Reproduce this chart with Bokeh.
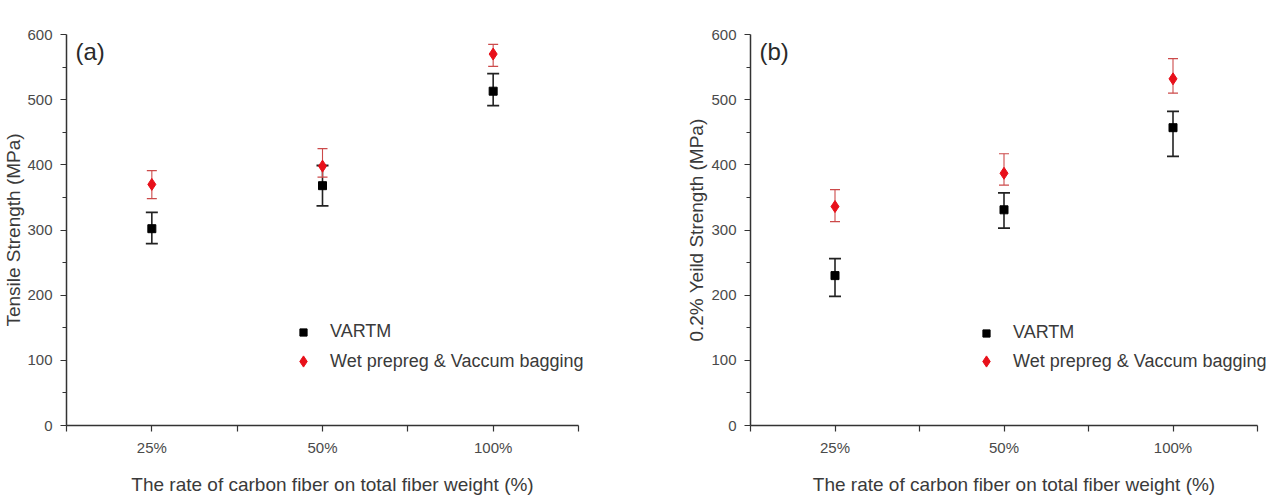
from bokeh.plotting import figure
from bokeh.layouts import row
from bokeh.models import (Range1d, FixedTicker, ColumnDataSource, Whisker, TeeHead,
                          Legend, LegendItem, Label)
from bokeh.embed import file_html
from bokeh.resources import INLINE

# ---------------- data ----------------
categories = ["25%", "50%", "100%"]
series_names = ["VARTM", "Wet prepreg & Vaccum bagging"]

tensile_vartm = [302, 368, 513]
tensile_vartm_lo = [279, 337, 491]
tensile_vartm_hi = [327, 399, 540]
tensile_wet = [370, 398, 570]
tensile_wet_lo = [348, 381, 551]
tensile_wet_hi = [391, 425, 585]

yield_vartm = [230, 331, 457]
yield_vartm_lo = [198, 303, 413]
yield_vartm_hi = [256, 357, 482]
yield_wet = [336, 387, 532]
yield_wet_lo = [313, 369, 510]
yield_wet_hi = [362, 417, 563]

y_major_ticks = [0, 100, 200, 300, 400, 500, 600]
y_minor_ticks = [50, 150, 250, 350, 450, 550]

FONT = "Liberation Sans"
TEXT = "#3a3a3a"
AXIS = "#333333"
FRAME_H = 391
EXTRA_W = 20  # extra frame room on the right so the legend text is not clipped


def make_panel(tag, ytitle, vartm, vlo, vhi, wet, wlo, whi,
               border_left, border_top, axis_w, fig_w,
               ytitle_standoff, legend_cx, legend_rows):
    n = len(categories)
    xs = list(range(1, n + 1))
    frame_w = axis_w + EXTRA_W
    x_end = 0.5 + n * frame_w / axis_w
    border_bottom = 498 - border_top - FRAME_H
    p = figure(width=fig_w, height=498,
               frame_width=frame_w, frame_height=FRAME_H,
               min_border_left=border_left, min_border_right=fig_w - border_left - frame_w,
               min_border_top=border_top, min_border_bottom=border_bottom,
               x_range=Range1d(0.5, x_end),
               y_range=Range1d(0, 600),
               output_backend="svg", toolbar_location=None,
               background_fill_color="white", border_fill_color="white")
    p.outline_line_color = None
    p.grid.visible = False

    # axes
    p.xaxis.ticker = FixedTicker(ticks=xs, minor_ticks=[x - 0.5 for x in xs] + [xs[-1] + 0.5])
    p.xaxis.bounds = (0.5, n + 0.5)
    p.xaxis.major_label_overrides = {x: c for x, c in zip(xs, categories)}
    p.yaxis.ticker = FixedTicker(ticks=y_major_ticks, minor_ticks=y_minor_ticks)
    for ax in (p.xaxis[0], p.yaxis[0]):
        ax.axis_line_color = AXIS
        ax.axis_line_width = 1.5
        ax.major_tick_line_color = AXIS
        ax.minor_tick_line_color = AXIS
        ax.major_tick_line_width = 1.2
        ax.minor_tick_line_width = 1.2
        ax.major_tick_in = 0
        ax.minor_tick_in = 0
        ax.major_label_text_font = FONT
        ax.major_label_text_font_size = "15px"
        ax.major_label_text_color = "#4a4a4a"
        ax.axis_label_text_font = FONT
        ax.axis_label_text_font_style = "normal"
        ax.axis_label_text_color = TEXT
        ax.axis_label_text_font_size = "19px"
    p.xaxis.major_tick_out = 6
    p.xaxis.minor_tick_out = 6
    p.yaxis.major_tick_out = 6
    p.yaxis.minor_tick_out = 4
    p.xaxis.major_label_standoff = 7
    p.yaxis.major_label_standoff = 8
    p.xaxis.axis_label = "The rate of carbon fiber on total fiber weight (%)"
    p.xaxis.axis_label_standoff = 15
    p.yaxis.axis_label = ytitle
    p.yaxis.axis_label_standoff = ytitle_standoff

    src_v = ColumnDataSource(dict(x=xs, y=vartm, lo=vlo, hi=vhi))
    src_w = ColumnDataSource(dict(x=xs, y=wet, lo=wlo, hi=whi))

    black = "#222222"
    red_bar = "#cc4a4a"
    p.add_layout(Whisker(source=src_v, base="x", lower="lo", upper="hi",
                         line_color=black, line_width=1.6,
                         upper_head=TeeHead(size=12, line_color=black, line_width=1.8),
                         lower_head=TeeHead(size=12, line_color=black, line_width=1.8)))
    r_v = p.scatter("x", "y", source=src_v, marker="square", size=8,
                    fill_color="#000000", line_color="#000000")
    p.add_layout(Whisker(source=src_w, base="x", lower="lo", upper="hi",
                         line_color=red_bar, line_width=1.1,
                         upper_head=TeeHead(size=10, line_color=red_bar, line_width=1.2),
                         lower_head=TeeHead(size=10, line_color=red_bar, line_width=1.2)))
    r_w = p.scatter("x", "y", source=src_w, marker="diamond", size=12,
                    fill_color="#e8101a", line_color="#e8101a", line_width=1)

    # legend: one Legend per entry so each symbol gets its own size
    common = dict(padding=0, margin=0, border_line_color=None, background_fill_alpha=0,
                  label_text_font=FONT, label_text_font_size="18px", label_text_color=TEXT)
    frame_bottom = border_top + FRAME_H
    text_gap = 27
    for rend, name, g, yc in zip([r_v, r_w], series_names, [18, 28], legend_rows):
        p.add_layout(Legend(items=[LegendItem(label=name, renderers=[rend])],
                            location=(legend_cx - g // 2, frame_bottom - yc - g // 2),
                            glyph_width=g, glyph_height=g, label_height=g,
                            label_standoff=text_gap - g // 2, **common), "center")

    p.add_layout(Label(x=0.5 + 9 * n / axis_w, y=594, text=tag, text_font=FONT,
                       text_font_size="24px", text_color="#2a2a2a", text_baseline="top"))
    return p


pa = make_panel("(a)", "Tensile Strength (MPa)",
                tensile_vartm, tensile_vartm_lo, tensile_vartm_hi,
                tensile_wet, tensile_wet_lo, tensile_wet_hi,
                border_left=66, border_top=34, axis_w=512, fig_w=640,
                ytitle_standoff=0, legend_cx=303 - 66, legend_rows=[333, 361])
pb = make_panel("(b)", "0.2% Yeild Strength (MPa)",
                yield_vartm, yield_vartm_lo, yield_vartm_hi,
                yield_wet, yield_wet_lo, yield_wet_hi,
                border_left=110, border_top=30, axis_w=507, fig_w=641,
                ytitle_standoff=1, legend_cx=986 - 750, legend_rows=[330, 357])

layout = row(pa, pb, spacing=0)
open("out.html", "w").write(file_html(layout, INLINE))
